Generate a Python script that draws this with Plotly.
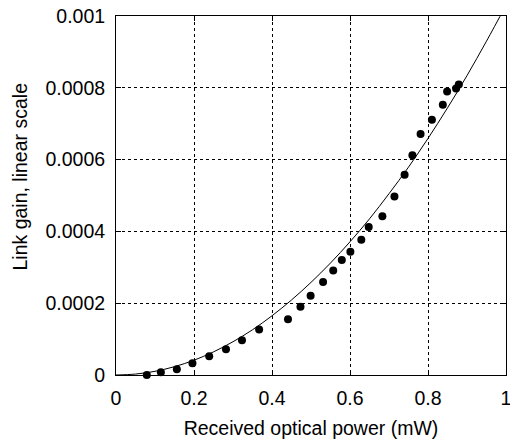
import plotly.graph_objects as go

# Measured data points (received optical power in mW, link gain linear)
power_mw = [0.079, 0.115, 0.156, 0.196, 0.239, 0.282, 0.323, 0.367, 0.441, 0.473,
            0.499, 0.531, 0.557, 0.579, 0.601, 0.629, 0.648, 0.683, 0.714, 0.740,
            0.760, 0.781, 0.810, 0.838, 0.849, 0.872, 0.879]
gain_meas = [0.0, 0.0000075, 0.000016, 0.000033, 0.000052, 0.000072, 0.000097, 0.000127,
             0.000155, 0.000190, 0.000221, 0.000259, 0.000291, 0.000320, 0.000343,
             0.000377, 0.000412, 0.000442, 0.000497, 0.000558, 0.000612, 0.000671,
             0.000711, 0.000753, 0.000790, 0.000798, 0.000809]

# Model curve
curve_x = [0.0, 0.05, 0.1, 0.15, 0.2, 0.25, 0.3, 0.35, 0.4, 0.45, 0.5, 0.55, 0.6,
           0.65, 0.7, 0.75, 0.8, 0.85, 0.9, 0.95, 1.0]
curve_y = [0.0, 0.0000026, 0.0000103, 0.0000232, 0.0000412, 0.0000644, 0.0000927,
           0.000126, 0.000165, 0.000209, 0.000258, 0.000312, 0.000371, 0.000435,
           0.000505, 0.000579, 0.000659, 0.000744, 0.000834, 0.000930, 0.00103]

x_ticks = [0, 0.2, 0.4, 0.6, 0.8, 1]
x_tick_text = ["0", "0.2", "0.4", "0.6", "0.8", "1"]
y_ticks = [0, 0.0002, 0.0004, 0.0006, 0.0008, 0.001]
y_tick_text = ["0", "0.0002", "0.0004", "0.0006", "0.0008", "0.001"]

FONT = "Liberation Sans, Arial, sans-serif"

fig = go.Figure()
fig.add_trace(go.Scatter(x=curve_x, y=curve_y, mode="lines", line=dict(color="black", width=1, shape="spline"),
                         showlegend=False, hoverinfo="skip"))
fig.add_trace(go.Scatter(x=power_mw, y=gain_meas, mode="markers",
                         marker=dict(color="black", size=8), showlegend=False, cliponaxis=False))

axis_common = dict(showline=True, linecolor="black", linewidth=1, mirror="ticks",
                   ticks="inside", ticklen=5, tickcolor="black", tickwidth=1,
                   showgrid=True, gridcolor="black", gridwidth=1, griddash="dot",
                   zeroline=False, ticklabeloverflow="allow",
                   tickfont=dict(family=FONT, size=19.5, color="black"))

fig.update_xaxes(range=[0, 1.0000001], tickvals=x_ticks, ticktext=x_tick_text, ticklabelstandoff=6,
                 title=dict(text="Received optical power (mW)", font=dict(family=FONT, size=19.5, color="black"), standoff=12),
                 **axis_common)
fig.update_yaxes(range=[0, 0.001], tickvals=y_ticks, ticktext=y_tick_text, ticklabelstandoff=6, **axis_common)

fig.add_annotation(text="Link gain, linear scale", xref="paper", yref="paper", x=-0.246, y=0.553,
                   textangle=-90, showarrow=False, xanchor="center", yanchor="middle",
                   font=dict(family=FONT, size=19.5, color="black"))

fig.update_layout(width=510, height=441, margin=dict(l=116, r=4, t=16, b=66, autoexpand=False),
                  paper_bgcolor="white", plot_bgcolor="white")

fig.write_html("out.html")
